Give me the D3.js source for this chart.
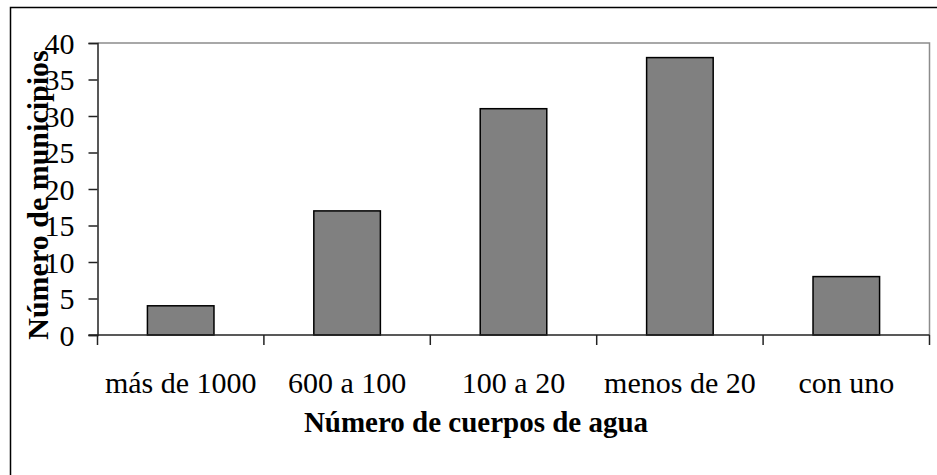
<!DOCTYPE html>
<html>
<head>
<meta charset="utf-8">
<script src="https://cdn.jsdelivr.net/npm/d3@7"></script>
</head>
<body style="margin:0;background:#fff">
<svg id="chart" width="937" height="475" style="display:block"></svg>
<script>
const categories = ["más de 1000", "600 a 100", "100 a 20", "menos de 20", "con uno"];
const values = [4, 17, 31, 38, 8];
const yTicks = [0, 5, 10, 15, 20, 25, 30, 35, 40];
const xTitle = "Número de cuerpos de agua";
const yTitle = "Número de municipios";

(function () {
const FONT = '"Liberation Serif", Tinos, "Times New Roman", serif';
const FS = 30;
const svg = d3.select("#chart");
const W = 937, H = 475;
const mLeft = 97.5, mRight = 929.5, mTop = 43, mBottom = 335;

// outer frame (left and top visible)
svg.append("rect").attr("x", 10.5).attr("y", 7.5).attr("width", W + 20).attr("height", H + 20)
  .attr("fill", "#fff").attr("stroke", "#000").attr("stroke-width", 1.5);

const x = d3.scaleBand().domain(categories).range([mLeft, mRight]).paddingInner(0.6).paddingOuter(0.3);
const xb = d3.scaleBand().domain(categories).range([mLeft, mRight]);
const y = d3.scaleLinear().domain([0, 40]).range([mBottom, mTop]);

// plot area border (top & right grey)
svg.append("path")
  .attr("d", `M${mLeft},${mTop}H${mRight}V${mBottom}`)
  .attr("fill", "none").attr("stroke", "#8c8c8c").attr("stroke-width", 1.5);

// bars
svg.append("g").selectAll("rect").data(values).join("rect")
  .attr("x", (d, i) => x(categories[i]))
  .attr("y", d => y(d))
  .attr("width", x.bandwidth())
  .attr("height", d => y(0) - y(d))
  .attr("fill", "#808080").attr("stroke", "#000").attr("stroke-width", 1.5);

// y axis
const yAxis = svg.append("g").attr("transform", `translate(${mLeft},0)`)
  .call(d3.axisLeft(y).tickValues(yTicks).tickSize(9).tickPadding(14));
yAxis.select(".domain").attr("stroke", "#222").attr("stroke-width", 1.5);
yAxis.selectAll(".tick line").attr("stroke", "#222").attr("stroke-width", 1.5);
yAxis.selectAll(".tick text")
  .style("font-family", FONT).style("font-size", FS + "px").attr("fill", "#000").attr("dy", "0.34em");

// x axis line and ticks at band boundaries
const xg = svg.append("g");
xg.append("line").attr("x1", mLeft - 9).attr("x2", mRight).attr("y1", mBottom).attr("y2", mBottom)
  .attr("stroke", "#222").attr("stroke-width", 1.5);
const bounds = categories.map(c => xb(c)).concat([mRight]);
xg.selectAll("line.t").data(bounds).join("line").attr("class", "t")
  .attr("x1", d => d).attr("x2", d => d).attr("y1", mBottom).attr("y2", mBottom + 10)
  .attr("stroke", "#222").attr("stroke-width", 1.5);
xg.selectAll("text").data(categories).join("text")
  .attr("x", d => xb(d) + xb.bandwidth() / 2)
  .attr("y", 393)
  .attr("text-anchor", "middle")
  .style("font-family", FONT).style("font-size", FS + "px")
  .text(d => d);

// titles
svg.append("text").attr("x", 476).attr("y", 432).attr("text-anchor", "middle")
  .style("font-family", FONT).style("font-size", "29px").style("font-weight", "bold").text(xTitle);
svg.append("text").attr("transform", `translate(48,${(mTop + mBottom) / 2 + 6}) rotate(-90)`)
  .attr("text-anchor", "middle")
  .style("font-family", FONT).style("font-size", FS + "px").style("font-weight", "bold").text(yTitle);
})();
</script>
</body>
</html>
